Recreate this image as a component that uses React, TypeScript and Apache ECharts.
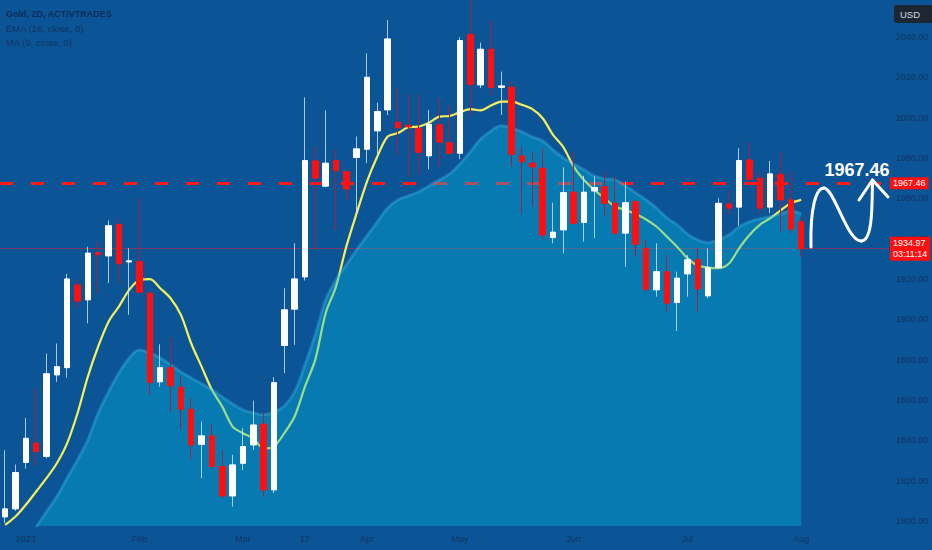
import React, { useEffect, useRef } from "react";
import * as echarts from "echarts";

// ---- data ----
const opens = [
  1802, 1806, 1829, 1838.6, 1832, 1872.4, 1876, 1917, 1909.6, 1933,
  1931.4, 1947, 1928.4, 1928.6, 1913, 1869, 1876, 1866.3, 1855.4, 1838,
  1842.2, 1827, 1812.4, 1828.6, 1837.7, 1848, 1815.4, 1887, 1905, 1921,
  1978.5, 1966, 1978.7, 1973.2, 1980.2, 1984.3, 1993.4, 2003.8, 1997.7, 1996.2,
  1994.7, 1981, 1996.4, 1987.6, 1982.3, 2041.3, 2016.2, 2033.9, 2015, 2015,
  1981, 1977.4, 1974.9, 1940.5, 1944.3, 1963, 1948, 1963.6, 1965.8, 1957.5,
  1942.7, 1958.3, 1935.2, 1914.6, 1923.6, 1908.3, 1922.5, 1929.6, 1911.6, 1925.6,
  1957.2, 1955.6, 1979, 1970, 1955.6, 1971.9, 1959.2, 1948.4,
];
const highs = [
  1835, 1828, 1851, 1866, 1883, 1888, 1922.5, 1919.5, 1936, 1938.5,
  1949, 1949.6, 1935.2, 1960, 1913.5, 1887.6, 1891, 1872, 1860.9, 1849.3,
  1848, 1835.2, 1832.8, 1846, 1859.7, 1853.4, 1871.3, 1915.4, 1937.7, 2010,
  1985.6, 2003.5, 1984, 1973.5, 1990.6, 2031.9, 2007.4, 2048.4, 2014.6, 2011.6,
  2012, 2003.8, 2009.6, 2006.3, 2039.8, 2058, 2037.2, 2048, 2022.8, 2017.8,
  1985.6, 1983.1, 1984.8, 1957.8, 1975.4, 1983.1, 1971.1, 1970.7, 1973.2, 1970.7,
  1968.3, 1959.2, 1939.4, 1937.7, 1931.9, 1923.6, 1931.9, 1935.2, 1935.2, 1960,
  1963.8, 1984.8, 1987.6, 1973.2, 1978.5, 1982.6, 1973.2, 1950.9,
];
const lows = [
  1799, 1805, 1826, 1827, 1831, 1869, 1871, 1905.5, 1898, 1913,
  1918, 1918, 1902.2, 1913, 1862.5, 1866.6, 1854, 1845.2, 1830.3, 1821.2,
  1826, 1811.3, 1807.1, 1825.3, 1835.2, 1812, 1813.8, 1873.3, 1887.3, 1919.2,
  1935.2, 1965.5, 1944, 1959.5, 1952.6, 1977.4, 1981.5, 2001.3, 1981.5, 1970.7,
  1971.6, 1974.4, 1975.7, 1981.5, 1979.4, 2000.5, 2014.6, 2011.2, 2001.3, 1975.7,
  1952.6, 1955.9, 1939.9, 1937.7, 1932.8, 1947, 1938.5, 1940.2, 1950.9, 1941.8,
  1926.1, 1931, 1913.7, 1911.2, 1903.8, 1894.2, 1911.2, 1903.8, 1910.4, 1925,
  1951.7, 1946.3, 1967.5, 1952.6, 1952.6, 1943.5, 1942.7, 1931,
];
const closes = [
  1806, 1824, 1841, 1834.4, 1873, 1876.5, 1920, 1909, 1932.8, 1932,
  1946.4, 1927.5, 1929, 1913.4, 1868.6, 1876, 1867, 1855.4, 1837.7, 1842.2,
  1827, 1812.4, 1827.8, 1836.9, 1847.6, 1815.4, 1868.6, 1904.7, 1920, 1978.7,
  1970, 1977.4, 1973.6, 1964.6, 1984.5, 2020, 2003, 2039, 1995, 1995.4,
  1982.8, 1996.7, 1987.8, 1982.3, 2038.2, 2016.5, 2033.9, 2015, 2015.7, 1981.8,
  1978, 1975.5, 1941.8, 1943.2, 1962.8, 1947.6, 1963, 1965.3, 1957.5, 1942.7,
  1957.8, 1937.2, 1914.9, 1923.6, 1908, 1920.4, 1929.5, 1915, 1925.6, 1957.5,
  1955.1, 1978.7, 1969.4, 1955.1, 1972.1, 1959.2, 1944.7, 1934.97,
];
// yellow moving-average line
const emaLine = [
  1798, 1802.2, 1808, 1814.6, 1821.2, 1828.6, 1838.6, 1853.4, 1871.6, 1886.5,
  1898.8, 1906.3, 1914.6, 1919.5, 1919.9, 1915.4, 1910.4, 1902.2, 1888, 1876.5,
  1865, 1856.7, 1846.8, 1843.5, 1841, 1836, 1836.9, 1843.5, 1851.8, 1866.6,
  1880, 1903, 1916.2, 1936, 1952.6, 1968.3, 1980.7, 1990.6, 1992.3, 1995.2,
  1995.5, 1997.5, 2000.5, 2000.8, 2002.7, 2004.2, 2003.6, 2006, 2007.9, 2007.9,
  2006.3, 2004.2, 1999.7, 1991.4, 1985.3, 1975.7, 1969.1, 1964.1, 1960, 1955.9,
  1954.2, 1952.2, 1949.5, 1946, 1941, 1936, 1930.3, 1926.6, 1925.6, 1925.3,
  1927.5, 1935.2, 1941.8, 1946.8, 1950.1, 1953.9, 1957.5, 1959.2,
];
// shaded average (area)
const maArea: (number | null)[] = [
  null, null, null, 1797, 1804.6, 1812.1, 1821.4, 1830.3, 1840.2, 1853.6,
  1864, 1873.4, 1880.8, 1884.8, 1883.3, 1880.8, 1877.4, 1873.9, 1870.9, 1868,
  1865, 1861.5, 1858, 1855.1, 1853.6, 1852.6, 1854.1, 1857, 1864, 1877.4,
  1892.3, 1909.6, 1919.5, 1927, 1934.4, 1941.3, 1948.3, 1955.2, 1959.2, 1961.2,
  1963.2, 1966.1, 1969.1, 1972.1, 1977, 1983, 1989.4, 1993.4, 1995.9, 1994.9,
  1992.9, 1990.4, 1988.4, 1984, 1980, 1977, 1974.1, 1971.1, 1969.6, 1969.1,
  1966.1, 1962.7, 1959.2, 1955.2, 1950.3, 1946.8, 1942.3, 1939.4, 1937.9, 1939.4,
  1941.8, 1945.8, 1948.3, 1949.8, 1950.8, 1952.2, 1953.7, 1952.2,
];
const xTickLabels: [number, string][] = [
  [2, "2023"], [13, "Feb"], [23, "Mar"], [29, "17"], [35, "Apr"],
  [44, "May"], [55, "Jun"], [66, "Jul"], [77, "Aug"],
];
const yTickValues = [1800, 1820, 1840, 1860, 1880, 1900, 1920, 1940, 1960, 1980, 2000, 2020, 2040];
const levelPrice = 1967.46;
const lastPrice = 1934.97;
const countdown = "03:11:14";
const TOTAL_SLOTS = 86;

const FONT = '"Liberation Sans", Arial, sans-serif';
const LABEL_COLOR = "#123465";

export default function App() {
  const ref = useRef<HTMLDivElement>(null);
  useEffect(() => {
    if (!ref.current) return;
    const chart = echarts.init(ref.current, null, { renderer: "svg" });
    const categories = Array.from({ length: TOTAL_SLOTS }, (_, i) => String(i));
    const tickMap = new Map<number, string>(xTickLabels);
    const wickData = opens.map((o, i) => [o, closes[i], lows[i], highs[i]]);
    const bodyData = opens.map((o, i) => [o, closes[i], Math.min(o, closes[i]), Math.max(o, closes[i])]);

    const option: any = {
      animation: false,
      backgroundColor: "#0b5496",
      grid: { left: 0, right: 43, top: 0, bottom: 24, containLabel: false, outerBoundsMode: "none" },
      xAxis: {
        type: "category",
        data: categories,
        boundaryGap: true,
        axisLine: { show: false },
        axisTick: { show: false },
        splitLine: { show: false },
        axisLabel: {
          interval: (i: number) => tickMap.has(i),
          formatter: (_v: string, i: number) => tickMap.get(i) ?? "",
          color: LABEL_COLOR,
          fontSize: 9,
          fontFamily: FONT,
          margin: 8,
        },
      },
      yAxis: {
        type: "value",
        position: "right",
        min: 1797.5,
        max: 2058.3,
        axisLine: { show: false },
        axisTick: { show: false },
        splitLine: { show: false },
        axisLabel: {
          customValues: yTickValues,
          formatter: (v: number) => v.toFixed(2),
          color: LABEL_COLOR,
          fontSize: 9,
          fontFamily: FONT,
          margin: 7,
        },
      },
      series: [
        {
          name: "EMA",
          type: "line",
          data: emaLine,
          smooth: 0.3,
          showSymbol: false,
          silent: true,
          z: 2,
          lineStyle: { color: "#f6f05a", width: 2.2 },
          markLine: {
            silent: true,
            z: 2,
            symbol: ["none", "none"],
            data: [
              {
                yAxis: levelPrice,
                lineStyle: { color: "#ff1a1a", width: 3, type: [13, 18] },
                label: {
                  show: true,
                  position: "end",
                  distance: 1,
                  formatter: levelPrice.toFixed(2),
                  backgroundColor: "#ff0f0f",
                  color: "#ffffff",
                  fontSize: 9,
                  fontFamily: FONT,
                  padding: [2, 3, 1, 3],
                },
              },
              {
                yAxis: lastPrice,
                lineStyle: { color: "rgba(200,40,70,0.6)", width: 1, type: "solid" },
                label: {
                  show: true,
                  position: "end",
                  distance: 1,
                  formatter: lastPrice.toFixed(2) + "\n" + countdown,
                  backgroundColor: "#ff0f0f",
                  color: "#ffffff",
                  fontSize: 9,
                  lineHeight: 11,
                  fontFamily: FONT,
                  padding: [1, 3, 1, 3],
                },
              },
            ],
          },
        },
        {
          name: "MA",
          type: "line",
          data: maArea,
          smooth: 0.4,
          showSymbol: false,
          silent: true,
          connectNulls: false,
          z: 3,
          lineStyle: { color: "rgba(70,190,235,0.35)", width: 3 },
          areaStyle: { color: "rgba(0,190,225,0.52)", origin: "start" },
        },
        {
          name: "wicks",
          type: "candlestick",
          data: wickData,
          barWidth: 1,
          silent: true,
          z: 5,
          itemStyle: {
            color: "rgba(200,222,245,0.85)",
            color0: "#9c2342",
            borderColor: "rgba(200,222,245,0.85)",
            borderColor0: "#9c2342",
            borderWidth: 1,
          },
        },
        {
          name: "bodies",
          type: "candlestick",
          data: bodyData,
          barWidth: 6,
          silent: true,
          z: 6,
          itemStyle: {
            color: "#ffffff",
            color0: "#ff1010",
            borderColor: "#ffffff",
            borderColor0: "#ff1010",
            borderWidth: 1,
          },
        },
      ],
      graphic: [
        { type: "text", x: 6, y: 14, z: 20, style: { text: "Gold, 2D, ACTIVTRADES", fill: "#0f2d5c", font: `bold 9px ${FONT}`, verticalAlign: "middle" } },
        { type: "text", x: 6, y: 28, z: 20, style: { text: "EMA (16, close, 0)", fill: LABEL_COLOR, font: `9.5px ${FONT}`, verticalAlign: "middle" } },
        { type: "text", x: 6, y: 42, z: 20, style: { text: "MA (9, close, 0)", fill: LABEL_COLOR, font: `9.5px ${FONT}`, verticalAlign: "middle" } },
        { type: "rect", z: 20, shape: { x: 894, y: 5, width: 40, height: 18, r: 3 }, style: { fill: "#1d2734" } },
        { type: "text", x: 900, y: 14, z: 21, style: { text: "USD", fill: "#d6dbe1", font: `9.5px ${FONT}`, verticalAlign: "middle" } },
        { type: "text", x: 857, y: 170, z: 21, style: { text: "1967.46", fill: "#ffffff", font: 'bold 18px "Liberation Sans", Arial, sans-serif', align: "center", verticalAlign: "middle" } },
        { type: "bezierCurve", z: 21, shape: { x1: 811, y1: 247, cpx1: 810, cpy1: 208, cpx2: 816, cpy2: 188, x2: 824, y2: 188 }, style: { stroke: "#ffffff", lineWidth: 3, fill: null, lineCap: "round" } },
        { type: "bezierCurve", z: 21, shape: { x1: 824, y1: 188, cpx1: 834, cpy1: 188, cpx2: 847, cpy2: 241, x2: 861, y2: 241 }, style: { stroke: "#ffffff", lineWidth: 3, fill: null, lineCap: "round" } },
        { type: "bezierCurve", z: 21, shape: { x1: 861, y1: 241, cpx1: 873, cpy1: 241, cpx2: 872, cpy2: 205, x2: 872.5, y2: 180 }, style: { stroke: "#ffffff", lineWidth: 3, fill: null, lineCap: "round" } },
        { type: "polyline", z: 21, shape: { points: [[859, 200], [872.5, 180], [888, 197]] }, style: { stroke: "#ffffff", lineWidth: 3, fill: null, lineCap: "round", lineJoin: "round" } },
      ],
    };
    chart.setOption(option);
    return () => chart.dispose();
  }, []);
  return <div ref={ref} style={{ position: "fixed", left: 0, top: 0, width: 932, height: 550 }} />;
}
